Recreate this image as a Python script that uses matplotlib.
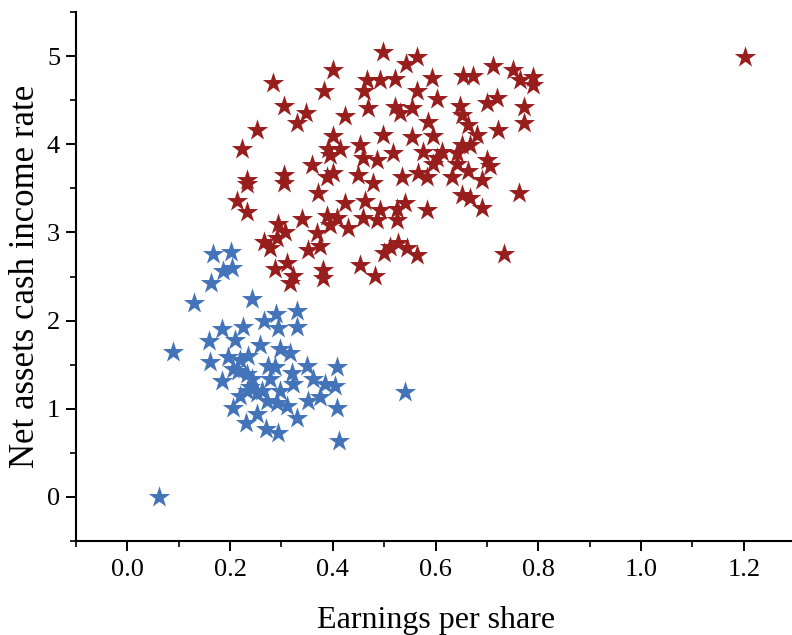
import matplotlib
matplotlib.use("Agg")
import matplotlib.pyplot as plt
from matplotlib.ticker import MultipleLocator

plt.rcParams['font.family'] = ['Liberation Serif', 'DejaVu Serif']

# Red group (high net assets cash income rate)
red_x = [0.498, 0.564, 0.543, 0.401, 0.712, 0.751, 0.284, 0.467, 0.492, 0.521,
         0.593, 0.654, 0.673, 0.765, 0.790, 0.790, 0.383, 0.461, 0.564, 0.603,
         0.304, 0.469, 0.348, 0.424, 0.331, 0.521, 0.554, 0.531, 0.648, 0.652,
         0.720, 0.700, 0.772, 0.772, 0.586, 0.663, 0.722, 0.253, 0.401, 0.498,
         0.554, 0.595, 0.681, 0.224, 0.453, 0.391, 0.414, 0.652, 0.667, 0.518,
         0.576, 0.613, 0.642, 0.700, 0.706, 0.395, 0.459, 0.486, 0.360, 0.233,
         0.232, 0.304, 0.304, 0.389, 0.401, 0.449, 0.479, 0.603, 0.535, 0.566,
         0.584, 0.595, 0.632, 0.642, 0.663, 0.691, 0.763, 0.652, 0.667, 0.691,
         0.584, 0.492, 0.525, 0.541, 0.525, 0.214, 0.233, 0.372, 0.424, 0.463,
         0.340, 0.294, 0.389, 0.409, 0.459, 0.486, 0.395, 0.430, 0.307, 0.292,
         0.265, 0.278, 0.370, 0.375, 0.352, 0.311, 0.288, 0.323, 0.317, 0.381,
         0.381, 0.453, 0.482, 0.500, 0.512, 0.527, 0.545, 0.564, 0.733, 1.202]
red_y = [5.05, 4.99, 4.91, 4.84, 4.89, 4.84, 4.69, 4.73, 4.73, 4.74,
         4.75, 4.77, 4.77, 4.73, 4.76, 4.67, 4.60, 4.61, 4.60, 4.51,
         4.44, 4.41, 4.35, 4.32, 4.24, 4.42, 4.41, 4.35, 4.44, 4.33,
         4.53, 4.47, 4.42, 4.24, 4.25, 4.22, 4.16, 4.16, 4.09, 4.10,
         4.08, 4.09, 4.10, 3.95, 3.99, 3.95, 3.95, 3.99, 3.99, 3.90,
         3.91, 3.91, 3.90, 3.82, 3.75, 3.88, 3.85, 3.82, 3.76, 3.59,
         3.55, 3.65, 3.56, 3.63, 3.67, 3.65, 3.56, 3.84, 3.63, 3.67,
         3.63, 3.78, 3.63, 3.78, 3.70, 3.59, 3.45, 3.42, 3.39, 3.28,
         3.25, 3.25, 3.27, 3.33, 3.14, 3.36, 3.23, 3.45, 3.33, 3.36,
         3.15, 3.10, 3.19, 3.16, 3.16, 3.14, 3.08, 3.05, 3.00, 2.94,
         2.89, 2.82, 2.99, 2.85, 2.80, 2.65, 2.59, 2.51, 2.43, 2.57,
         2.48, 2.63, 2.51, 2.77, 2.83, 2.88, 2.82, 2.74, 2.76, 4.99]

# Blue group (low net assets cash income rate)
blue_x = [0.167, 0.202, 0.187, 0.204, 0.163, 0.130, 0.243, 0.290, 0.331, 0.265,
          0.294, 0.331, 0.185, 0.226, 0.158, 0.210, 0.259, 0.298, 0.317, 0.089,
          0.161, 0.195, 0.220, 0.235, 0.206, 0.233, 0.243, 0.274, 0.288, 0.321,
          0.350, 0.409, 0.185, 0.278, 0.323, 0.362, 0.385, 0.405, 0.233, 0.298,
          0.253, 0.272, 0.292, 0.311, 0.352, 0.375, 0.409, 0.206, 0.331, 0.253,
          0.230, 0.270, 0.294, 0.411, 0.541, 0.062, 0.216, 0.239, 0.263, 0.220]
blue_y = [2.76, 2.78, 2.56, 2.60, 2.43, 2.20, 2.25, 2.08, 2.11, 2.00,
          1.92, 1.93, 1.90, 1.93, 1.77, 1.78, 1.72, 1.68, 1.63, 1.64,
          1.53, 1.59, 1.55, 1.60, 1.45, 1.40, 1.34, 1.49, 1.47, 1.41,
          1.49, 1.47, 1.32, 1.34, 1.28, 1.34, 1.28, 1.26, 1.20, 1.20,
          1.18, 1.09, 1.07, 1.03, 1.09, 1.13, 1.01, 1.01, 0.90, 0.94,
          0.84, 0.77, 0.73, 0.63, 1.19, 0.00, 1.43, 1.25, 1.20, 1.15]

x_label = "Earnings per share"
y_label = "Net assets cash income rate"

fig = plt.figure(figsize=(7.92, 6.35), dpi=100)
ax = fig.add_axes([0.096, 0.148, 0.908, 0.833])

ax.scatter(red_x, red_y, marker='*', s=260, color='#981E1E', linewidths=0, zorder=3)
ax.scatter(blue_x, blue_y, marker='*', s=260, color='#4373B9', linewidths=0, zorder=3)

ax.set_xlim(-0.1, 1.3)
ax.set_ylim(-0.5, 5.5)
ax.xaxis.set_minor_locator(MultipleLocator(0.1))
ax.yaxis.set_major_locator(MultipleLocator(1))
ax.yaxis.set_minor_locator(MultipleLocator(0.5))
ax.set_xticks([0.0, 0.2, 0.4, 0.6, 0.8, 1.0, 1.2])
ax.set_xticklabels(["0.0", "0.2", "0.4", "0.6", "0.8", "1.0", "1.2"])

for side in ['top', 'right']:
    ax.spines[side].set_visible(False)
for side in ['left', 'bottom']:
    ax.spines[side].set_linewidth(1.5)

ax.tick_params(which='major', direction='out', length=7, width=1.4, labelsize=19)
ax.tick_params(axis='y', which='major', pad=4.5)
ax.tick_params(axis='x', which='major', pad=6)
ax.tick_params(which='minor', direction='out', length=4, width=1.2)

ax.set_xlabel(x_label, fontsize=23)
ax.set_ylabel(y_label, fontsize=25)
ax.xaxis.set_label_coords(0.5, -0.123)
ax.yaxis.set_label_coords(-0.070, 0.5)
ax.xaxis.label.set_va('top')
ax.yaxis.label.set_va('center')

fig.savefig("out.png", dpi=100)
